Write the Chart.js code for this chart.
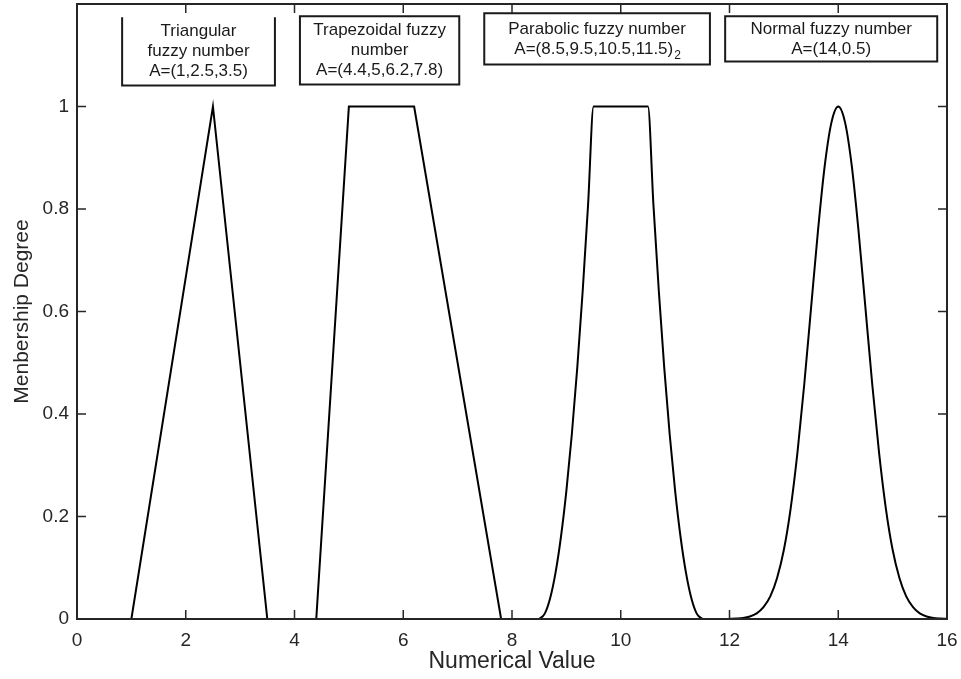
<!DOCTYPE html>
<html>
<head>
<meta charset="utf-8">
<script src="https://cdn.jsdelivr.net/npm/chart.js@4.4.1/dist/chart.umd.min.js"></script>
<style>
	body { margin: 0; background: #fff; }
	#chart { display: block; }
</style>
</head>
<body>
<canvas id="chart" width="961" height="679"></canvas>
<script>
var xTicks = [0, 2, 4, 6, 8, 10, 12, 14, 16]
var yTicks = [0, 0.2, 0.4, 0.6, 0.8, 1]

var triX = [1, 2.5, 3.5]
var triY = [0, 1, 0]

var trapX = [4.4, 5, 6.2, 7.8]
var trapY = [0, 1, 1, 0]

var paraX = [8.5, 8.6, 8.7, 8.8, 8.9, 9.0, 9.1, 9.2, 9.3, 9.4, 9.5,
	10.5, 10.6, 10.7, 10.8, 10.9, 11.0, 11.1, 11.2, 11.3, 11.4, 11.5]
var paraY = [0, 0.01, 0.04, 0.09, 0.16, 0.25, 0.36, 0.49, 0.64, 0.81, 1,
	1, 0.81, 0.64, 0.49, 0.36, 0.25, 0.16, 0.09, 0.04, 0.01, 0]

var normX = [12, 12.125, 12.25, 12.375, 12.5, 12.625, 12.75, 12.875, 13, 13.125, 13.25, 13.375, 13.5, 13.625, 13.75, 13.875, 14,
	14.125, 14.25, 14.375, 14.5, 14.625, 14.75, 14.875, 15, 15.125, 15.25, 15.375, 15.5, 15.625, 15.75, 15.875, 16]
var normY = [0.0003, 0.0009, 0.002, 0.005, 0.011, 0.023, 0.044, 0.080, 0.135, 0.216, 0.325, 0.458, 0.607, 0.755, 0.883, 0.969, 1,
	0.969, 0.883, 0.755, 0.607, 0.458, 0.325, 0.216, 0.135, 0.080, 0.044, 0.023, 0.011, 0.005, 0.002, 0.0009, 0.0003]

var boxes = [
	{ x1: 0.83, x2: 3.64, y1: 1.174, y2: 1.041, openTop: true, lines: ["Triangular", "fuzzy number", "A=(1,2.5,3.5)"] },
	{ x1: 4.10, x2: 7.03, y1: 1.176, y2: 1.043, lines: ["Trapezoidal fuzzy", "number", "A=(4.4,5,6.2,7.8)"] },
	{ x1: 7.49, x2: 11.64, y1: 1.182, y2: 1.082, lines: ["Parabolic fuzzy number", "A=(8.5,9.5,10.5,11.5)"], sub: "2" },
	{ x1: 11.92, x2: 15.82, y1: 1.176, y2: 1.088, lines: ["Normal fuzzy number", "A=(14,0.5)"] }
]

function points(xs, ys) {
	return xs.map(function (x, i) { return { x: x, y: ys[i] } })
}

function curve(xs, ys, smooth) {
	return {
		data: points(xs, ys),
		borderColor: "#000",
		borderWidth: 2,
		pointRadius: 0,
		fill: false,
		tension: 0,
		cubicInterpolationMode: smooth ? "monotone" : "default"
	}
}

var FONT = "'Liberation Sans', Arial, Helvetica, sans-serif"

var frame = {
	id: "frame",
	afterDatasetsDraw: function (chart) {
		var ctx = chart.ctx
		var a = chart.chartArea
		var sx = chart.scales.x, sy = chart.scales.y
		var tl = 9
		ctx.save()
		ctx.strokeStyle = "#262626"
		ctx.lineWidth = 1.5
		ctx.beginPath()
		xTicks.forEach(function (v) {
			var px = sx.getPixelForValue(v)
			ctx.moveTo(px, a.bottom); ctx.lineTo(px, a.bottom - tl)
			ctx.moveTo(px, a.top); ctx.lineTo(px, a.top + tl)
		})
		yTicks.forEach(function (v) {
			var py = sy.getPixelForValue(v)
			ctx.moveTo(a.left, py); ctx.lineTo(a.left + tl, py)
			ctx.moveTo(a.right, py); ctx.lineTo(a.right - tl, py)
		})
		ctx.stroke()
		ctx.lineWidth = 2
		ctx.strokeRect(a.left, a.top, a.right - a.left, a.bottom - a.top)

		// annotation boxes
		boxes.forEach(function (b) {
			var l = sx.getPixelForValue(b.x1), r = sx.getPixelForValue(b.x2)
			var t = sy.getPixelForValue(b.y1), bt = sy.getPixelForValue(b.y2)
			ctx.fillStyle = "#fff"
			ctx.fillRect(l, t, r - l, bt - t)
			ctx.strokeStyle = "#1a1a1a"
			ctx.lineWidth = 2
			ctx.beginPath()
			if (b.openTop) {
				ctx.moveTo(l, t); ctx.lineTo(l, bt); ctx.lineTo(r, bt); ctx.lineTo(r, t)
			} else {
				ctx.rect(l, t, r - l, bt - t)
			}
			ctx.stroke()
			ctx.fillStyle = "#1a1a1a"
			ctx.textBaseline = "middle"
			var cx = (l + r) / 2, cy = (t + bt) / 2
			var n = b.lines.length
			b.lines.forEach(function (s, i) {
				var y = cy + (i - (n - 1) / 2) * 20
				if (b.sub && i == n - 1) {
					ctx.font = "17px " + FONT
					var w = ctx.measureText(s).width
					ctx.font = "12px " + FONT
					var ws = ctx.measureText(b.sub).width
					var x0 = cx - (w + ws) / 2
					ctx.textAlign = "left"
					ctx.font = "17px " + FONT
					ctx.fillText(s, x0, y)
					ctx.font = "12px " + FONT
					ctx.fillText(b.sub, x0 + w + 1, y + 7)
				} else {
					ctx.textAlign = "center"
					ctx.font = "17px " + FONT
					ctx.fillText(s, cx, y)
				}
			})
		})
		ctx.restore()
	}
}

var chart = new Chart(document.getElementById("chart"), {
	type: "line",
	data: {
		datasets: [
			curve(triX, triY, false),
			curve(trapX, trapY, false),
			curve(paraX, paraY, true),
			curve(normX, normY, true)
		]
	},
	options: {
		responsive: false,
		animation: false,
		layout: { padding: { top: 4, right: 14, left: 0, bottom: 0 } },
		plugins: { legend: { display: false }, tooltip: { enabled: false } },
		scales: {
			x: {
				type: "linear",
				min: 0,
				max: 16,
				grid: { display: false, drawTicks: false },
				border: { display: false },
				afterBuildTicks: function (s) { s.ticks = xTicks.map(function (v) { return { value: v } }) },
				afterFit: function (s) { s.height = 60; s.paddingLeft = 0; s.paddingRight = 0 },
				ticks: { color: "#262626", padding: 10, font: { family: FONT, size: 19 }, maxRotation: 0 },
				title: { display: true, text: "Numerical Value", color: "#262626", font: { family: FONT, size: 23 }, padding: { top: 0, bottom: 4 } }
			},
			y: {
				type: "linear",
				min: 0,
				max: 1.2,
				grid: { display: false, drawTicks: false },
				border: { display: false },
				afterBuildTicks: function (s) { s.ticks = yTicks.map(function (v) { return { value: v } }) },
				afterFit: function (s) { s.width = 77; s.paddingTop = 0; s.paddingBottom = 0 },
				ticks: {
					color: "#262626", padding: 8, font: { family: FONT, size: 19 },
					callback: function (v) { return String(+v.toFixed(1)) }
				},
				title: { display: true, text: "Menbership Degree", color: "#262626", font: { family: FONT, size: 21 }, padding: { top: 10, bottom: 0 } }
			}
		}
	},
	plugins: [frame]
})
</script>
</body>
</html>
